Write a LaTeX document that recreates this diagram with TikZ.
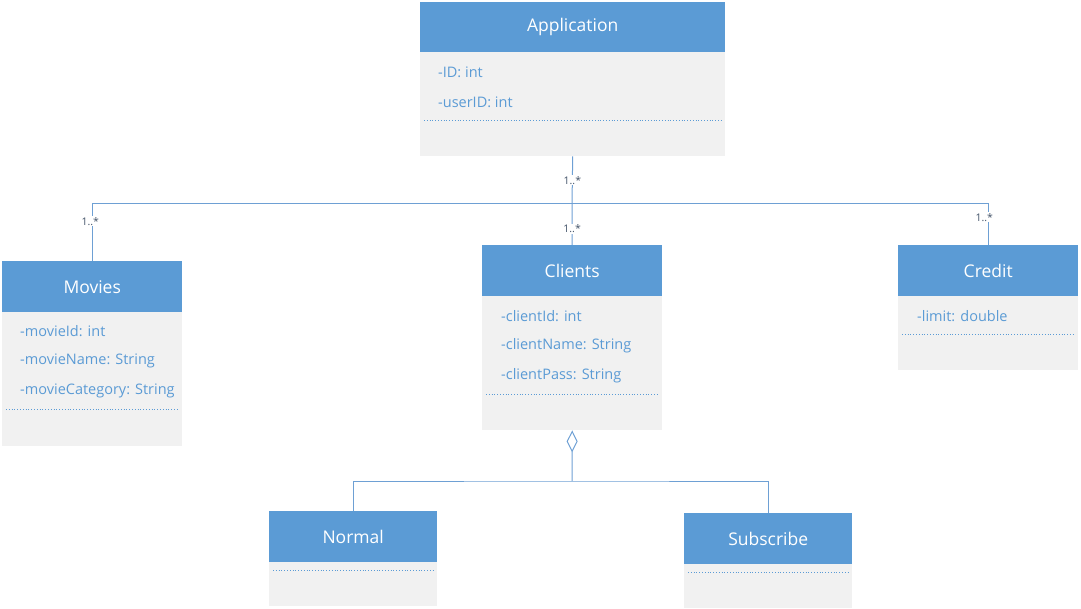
\documentclass[tikz,border=0pt]{standalone}
\usepackage{fontspec}
\setmainfont{Open Sans}
\usetikzlibrary{arrows.meta}
\definecolor{umlblue}{RGB}{91,155,213}
\definecolor{umlgray}{RGB}{241,241,241}
\definecolor{umlline}{RGB}{110,160,212}
\definecolor{umllabel}{RGB}{68,84,106}
\tikzset{
  classhead/.style={rectangle, fill=umlblue, text=white, anchor=north west, inner sep=0pt, minimum height=51pt, font=\fontsize{17.5}{20}\selectfont},
  classbody/.style={rectangle, fill=umlgray, anchor=north west, inner sep=0pt},
  attr/.style={anchor=west, text=umlblue, inner sep=0pt, font=\fontsize{14.5}{17}\selectfont},
  sep/.style={umlblue, dotted, line width=.8pt},
  mult/.style={fill=white, text=umllabel, inner sep=1pt, font=\fontsize{10.5}{12}\selectfont},
  link/.style={umlline, line width=1pt}
}
\begin{document}
\begin{tikzpicture}[x=1pt,y=-1pt]
\useasboundingbox (0,0) rectangle (1081,609);
% classes
\node[classbody, minimum width=305pt, minimum height=104pt] (appbody) at (420,52) {};
\node[classhead, minimum width=305pt, minimum height=50pt] (app) at (420,2) {Application};
\node[classbody, minimum width=180pt, minimum height=134pt] (moviesbody) at (2,312) {};
\node[classhead, minimum width=180pt] (movies) at (2,261) {Movies};
\node[classbody, minimum width=180pt, minimum height=134pt] (clientsbody) at (482,296) {};
\node[classhead, minimum width=180pt] (clients) at (482,245) {Clients};
\node[classbody, minimum width=180pt, minimum height=74pt] (creditbody) at (898,296) {};
\node[classhead, minimum width=180pt] (credit) at (898,245) {Credit};
\node[classbody, minimum width=168pt, minimum height=44pt] (normalbody) at (269,562) {};
\node[classhead, minimum width=168pt] (normal) at (269,511) {Normal};
\node[classbody, minimum width=168pt, minimum height=44pt] (subbody) at (684,564) {};
\node[classhead, minimum width=168pt] (subscribe) at (684,513) {Subscribe};
% attributes
\foreach \txt [count=\i] in {-ID: int, -userID: int}
  \node[attr] (appattr\i) at (438,42+30*\i) {\txt};
\foreach \txt [count=\i] in {-movieId: int, -movieName: String, -movieCategory: String}
  \node[attr] (moviesattr\i) at (20,301+30*\i) {\txt};
\foreach \txt [count=\i] in {-clientId: int, -clientName: String, -clientPass: String}
  \node[attr] (clientsattr\i) at (501,286+30*\i) {\txt};
\node[attr] (creditattr1) at (917,316) {-limit: double};
% separators
\draw[sep] ([xshift=4pt]appbody.north west) ++(0,68) -- ++(297,0);
\draw[sep] ([xshift=4pt]moviesbody.north west) ++(0,97) -- ++(172,0);
\draw[sep] ([xshift=4pt]clientsbody.north west) ++(0,98) -- ++(172,0);
\draw[sep] ([xshift=4pt]creditbody.north west) ++(0,38) -- ++(172,0);
\draw[sep] ([xshift=4pt]normalbody.north west) ++(0,8) -- ++(160,0);
\draw[sep] ([xshift=4pt]subbody.north west) ++(0,8) -- ++(160,0);
% associations
\coordinate (hub) at (572,204);
\draw[link] (appbody.south) -- node[mult]{1..*} (hub);
\draw[link] (hub) -- node[mult, pos=.6]{1..*} (clients.north);
\draw[link] (movies.north) -- node[mult, pos=.7, xshift=-2pt]{1..*} (movies.north |- hub)
  -- (credit.north |- hub) -- node[mult, pos=.32, xshift=-4pt]{1..*} (credit.north);
% aggregation
\coordinate (agg) at (572,481);
\draw[link, -{Diamond[open, length=22pt, width=11pt]}] (agg) -- (clientsbody.south);
\draw[link] (normal.north) |- (agg) -| (subscribe.north);
\end{tikzpicture}
\end{document}
